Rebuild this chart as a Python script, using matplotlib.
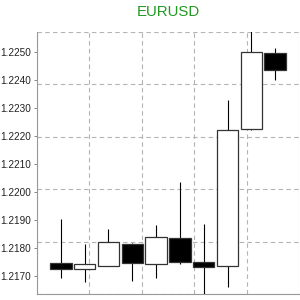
import numpy as np
import matplotlib
matplotlib.use('Agg')
from matplotlib import pyplot as plt

# EURUSD candles
opens = [1.21745, 1.21726, 1.21737, 1.21816, 1.21742, 1.21837, 1.21751, 1.21735, 1.22225, 1.22495]
highs = [1.21902, 1.21813, 1.21867, 1.21818, 1.21881, 1.22035, 1.21885, 1.22329, 1.22600, 1.22513]
lows = [1.21692, 1.21680, 1.21737, 1.21683, 1.21694, 1.21742, 1.21620, 1.21661, 1.22222, 1.22399]
closes = [1.21725, 1.21743, 1.21821, 1.21745, 1.21838, 1.21749, 1.21732, 1.22221, 1.22498, 1.22435]
ytick_values = [1.2170, 1.2180, 1.2190, 1.2200, 1.2210, 1.2220, 1.2230, 1.2240, 1.2250]
title = 'EURUSD'

plt.rcParams['font.family'] = ['Liberation Sans', 'DejaVu Sans']

fig = plt.figure(figsize=(3, 3), dpi=100)
ax = fig.add_axes([37 / 300, 1 - 294 / 300, 262 / 300, 262 / 300])

x = np.arange(len(opens))
opens = np.array(opens)
closes = np.array(closes)
bottoms = np.minimum(opens, closes)
heights = np.abs(closes - opens)
colors = ['black' if c < o else 'white' for o, c in zip(opens, closes)]

ax.vlines(x, lows, highs, color='black', lw=0.8, zorder=2)
ax.bar(x, heights, bottom=bottoms, width=0.9, color=colors,
       edgecolor='#333333', linewidth=0.9, zorder=3)

ax.set_xlim(-1, 10)
ax.set_ylim(1.21636, 1.22571)

# grid is 5x5, independent of the price ticks
ax.set_xticks([])
ax.set_xticks(np.linspace(-1, 10, 6), minor=True)
ax.set_yticks(ytick_values)
ax.set_yticklabels(['%.4f' % v for v in ytick_values])
ax.set_yticks(np.linspace(1.21636, 1.22571, 6), minor=True)
ax.grid(False)
ax.grid(which='minor', color='#b4b4b4', linestyle=(0, (4, 3)), linewidth=0.8)
ax.tick_params(axis='both', which='minor', length=0)
ax.tick_params(axis='y', which='major', length=2.5, width=0.7, color='#888888',
               labelsize=7.2, pad=1.5, labelcolor='#222222')

for side in ['top', 'right']:
    ax.spines[side].set_visible(False)
for side in ['left', 'bottom']:
    ax.spines[side].set_color('#999999')
    ax.spines[side].set_linewidth(0.8)

fig.text(168 / 300, 1 - 12 / 300, title, color='#229922', fontsize=10.8,
         ha='center', va='center')

fig.savefig('out.png', dpi=100)
